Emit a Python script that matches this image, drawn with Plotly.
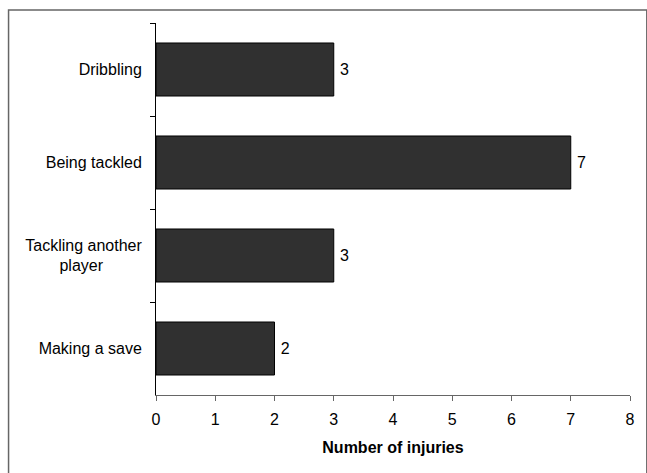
import plotly.graph_objects as go

categories = ["Dribbling", "Being tackled",
              "Tackling another<br>player" + "\u00a0" * 8 + "\u2009", "Making a save"]
injuries = [3, 7, 3, 2]
x_ticks = [0, 1, 2, 3, 4, 5, 6, 7, 8]
x_title = "Number of injuries"

W, H = 647, 473
L, R, T, B = 156, 12, 23, 78
FONT = "Liberation Sans, Arial, Helvetica, sans-serif"

fig = go.Figure()
fig.add_trace(go.Bar(
    y=categories, x=injuries, orientation="h",
    marker=dict(color="#303030", line=dict(color="#000000", width=1)),
    text=["\u2009" + str(v) for v in injuries], textposition="outside",
    textfont=dict(family=FONT, size=16, color="#000"),
    cliponaxis=False,
))

fig.update_layout(
    width=W, height=H,
    margin=dict(l=L, r=R, t=T, b=B, pad=0),
    paper_bgcolor="white", plot_bgcolor="white",
    bargap=0.43,
    showlegend=False,
    font=dict(family=FONT, size=16, color="#000"),
    xaxis=dict(
        range=[0, 8], tickvals=x_ticks, ticks="outside", ticklen=5, tickcolor="#666",
        showline=True, linecolor="#666", linewidth=1, showgrid=False, zeroline=False,
        tickfont=dict(size=16), ticklabelstandoff=5,
        title=dict(text="<b>" + x_title + "</b>", font=dict(size=16), standoff=14),
    ),
    yaxis=dict(
        type="category", autorange="reversed", tickson="boundaries",
        ticks="outside", ticklen=5, tickcolor="#000",
        showline=True, linecolor="#000", linewidth=1, showgrid=False, zeroline=False,
        tickfont=dict(size=16), ticklabelstandoff=10,
    ),
)

# outer chart-area border (left and top visible; right/bottom run off the image)
pw, ph = W - L - R, H - T - B
fig.add_shape(type="rect", xref="paper", yref="paper",
              x0=(7 - L) / pw, x1=(W + 5 - L) / pw,
              y0=-(H + 5 - (T + ph)) / ph, y1=(T + ph - 10) / ph,
              line=dict(color="#666", width=1.5), fillcolor="rgba(0,0,0,0)", layer="below")

fig.write_html("out.html")
